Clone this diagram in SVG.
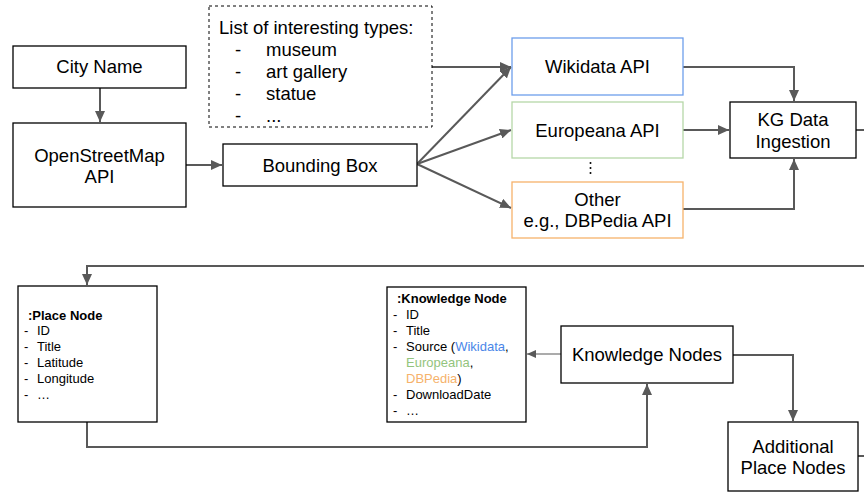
<svg xmlns="http://www.w3.org/2000/svg" width="864" height="494" viewBox="0 0 864 494">
<style>
.box{fill:#fff;stroke:#000;stroke-width:1.3}
.t{font-family:"Liberation Sans",Arial,sans-serif;font-size:18.5px;fill:#000}
.s{font-family:"Liberation Sans",Arial,sans-serif;font-size:13px;fill:#000}
.b{font-weight:bold}
.c{fill:none;stroke:#595959;stroke-width:2}
.c1{fill:none;stroke:#595959;stroke-width:1.2}
</style>
<defs>
<marker id="a" markerUnits="userSpaceOnUse" markerWidth="12" markerHeight="10" refX="11" refY="5" orient="auto">
<path d="M0,0 L11,5 L0,10 Z" fill="#595959"/>
</marker>
<marker id="a2" markerUnits="userSpaceOnUse" markerWidth="10" markerHeight="8" refX="9" refY="4" orient="auto">
<path d="M0,0 L9,4 L0,8 Z" fill="#595959"/>
</marker>
</defs>
<rect width="864" height="494" fill="#fff"/>
<g id="connectors">
<path class="c" d="M100,88 V122" marker-end="url(#a)"/>
<path class="c" d="M186,165 H222" marker-end="url(#a)"/>
<path class="c" d="M432,67 H511" marker-end="url(#a)"/>
<path class="c" d="M417,164 L511,67" marker-end="url(#a)"/>
<path class="c" d="M417,164 L511,130" marker-end="url(#a)"/>
<path class="c" d="M417,164 L511,208" marker-end="url(#a)"/>
<path class="c" d="M683,67 H794 V101" marker-end="url(#a)"/>
<path class="c" d="M683,130 H729" marker-end="url(#a)"/>
<path class="c" d="M683,209 H794 V159" marker-end="url(#a)"/>
<path class="c" d="M856,130 H864"/>
<path class="c" d="M864,266 H87 V285" marker-end="url(#a)"/>
<path class="c" d="M87,422 V447 H647 V384" marker-end="url(#a)"/>
<path class="c1" d="M561,354 H527" marker-end="url(#a2)"/>
<path class="c" d="M733,355 H793 V421" marker-end="url(#a)"/>
<path class="c" d="M858,456 H864"/>
</g>
<g id="city-name">
<rect class="box" x="13" y="46" width="173" height="42"/>
<text class="t" x="99.5" y="73" text-anchor="middle">City Name</text>
</g>
<g id="osm-api">
<rect class="box" x="13" y="123" width="173" height="84"/>
<text class="t" x="99.5" y="162" text-anchor="middle">OpenStreetMap</text>
<text class="t" x="99.5" y="183" text-anchor="middle">API</text>
</g>
<g id="types">
<rect x="209" y="6" width="223" height="121" fill="#fff" stroke="#000" stroke-width="1" stroke-dasharray="3,3"/>
<text class="t" x="219" y="34">List of interesting types:</text>
<text class="t" x="235" y="56">-</text><text class="t" x="266" y="56">museum</text>
<text class="t" x="235" y="78">-</text><text class="t" x="266" y="78">art gallery</text>
<text class="t" x="235" y="100">-</text><text class="t" x="266" y="100">statue</text>
<text class="t" x="235" y="122">-</text><text class="t" x="266" y="122">...</text>
</g>
<g id="bounding-box">
<rect class="box" x="223" y="144" width="194" height="42"/>
<text class="t" x="320" y="172" text-anchor="middle">Bounding Box</text>
</g>
<g id="wikidata">
<rect x="512" y="38" width="171" height="57" fill="#fff" stroke="#6d9eeb" stroke-width="1.3"/>
<text class="t" x="597.5" y="73" text-anchor="middle">Wikidata API</text>
</g>
<g id="europeana">
<rect x="512" y="102" width="171" height="56" fill="#fff" stroke="#b6d7a8" stroke-width="1.3"/>
<text class="t" x="597.5" y="137" text-anchor="middle">Europeana API</text>
</g>
<g id="dots">
<circle cx="590.5" cy="163" r="1" fill="#000"/>
<circle cx="590.5" cy="168" r="1" fill="#000"/>
<circle cx="590.5" cy="173" r="1" fill="#000"/>
</g>
<g id="other">
<rect x="512" y="182" width="171" height="56" fill="#fff" stroke="#f6b26b" stroke-width="1.3"/>
<text class="t" x="597.5" y="206" text-anchor="middle">Other</text>
<text class="t" x="597.5" y="227" text-anchor="middle">e.g., DBPedia API</text>
</g>
<g id="kg-ingestion">
<rect class="box" x="730" y="102" width="126" height="56"/>
<text class="t" x="793" y="126" text-anchor="middle">KG Data</text>
<text class="t" x="793" y="148" text-anchor="middle">Ingestion</text>
</g>
<g id="place-node">
<rect class="box" x="18" y="286" width="139" height="136"/>
<text class="s b" x="28" y="320">:Place Node</text>
<text class="s" x="24" y="335">-</text><text class="s" x="37" y="335">ID</text>
<text class="s" x="24" y="351">-</text><text class="s" x="37" y="351">Title</text>
<text class="s" x="24" y="367">-</text><text class="s" x="37" y="367">Latitude</text>
<text class="s" x="24" y="383">-</text><text class="s" x="37" y="383">Longitude</text>
<text class="s" x="24" y="399">-</text><text class="s" x="37" y="399">…</text>
</g>
<g id="knowledge-node">
<rect class="box" x="387" y="287" width="139" height="135"/>
<text class="s b" x="397" y="303">:Knowledge Node</text>
<text class="s" x="393" y="319">-</text><text class="s" x="406" y="319">ID</text>
<text class="s" x="393" y="335">-</text><text class="s" x="406" y="335">Title</text>
<text class="s" x="393" y="351">-</text><text class="s" x="406" y="351">Source (<tspan fill="#4a86e8">Wikidata</tspan>,</text>
<text class="s" x="406" y="367"><tspan fill="#93c47d">Europeana</tspan>,</text>
<text class="s" x="406" y="383"><tspan fill="#f6b26b">DBPedia</tspan>)</text>
<text class="s" x="393" y="399">-</text><text class="s" x="406" y="399">DownloadDate</text>
<text class="s" x="393" y="415">-</text><text class="s" x="406" y="415">…</text>
</g>
<g id="knowledge-nodes">
<rect class="box" x="561" y="326" width="172" height="57"/>
<text class="t" x="647" y="361" text-anchor="middle">Knowledge Nodes</text>
</g>
<g id="additional-place-nodes">
<rect class="box" x="728" y="422" width="130" height="69"/>
<text class="t" x="793" y="453" text-anchor="middle">Additional</text>
<text class="t" x="793" y="474" text-anchor="middle">Place Nodes</text>
</g>
</svg>
